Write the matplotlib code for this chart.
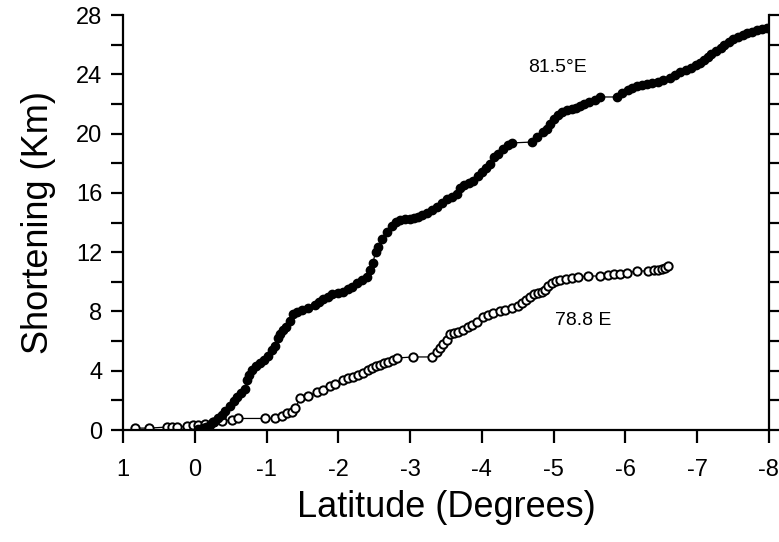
import matplotlib
matplotlib.use("Agg")
import matplotlib.pyplot as plt
from matplotlib.ticker import MultipleLocator

plt.rcParams['font.family'] = ['Liberation Sans', 'DejaVu Sans']

# 81.5°E (filled circles)
lat_815 = [-0.04, -0.11, -0.16, -0.21, -0.27, -0.32, -0.38, -0.42, -0.49, -0.55,
           -0.59, -0.64, -0.70, -0.73, -0.75, -0.80, -0.85, -0.91, -0.96, -1.02,
           -1.08, -1.12, -1.16, -1.19, -1.23, -1.27, -1.33, -1.37, -1.42, -1.49,
           -1.58, -1.67, -1.73, -1.79, -1.86, -1.91, -1.99, -2.06, -2.13, -2.19,
           -2.26, -2.33, -2.40, -2.44, -2.48, -2.52, -2.55, -2.61, -2.68, -2.75,
           -2.80, -2.86, -2.93, -3.00, -3.05, -3.11, -3.16, -3.23, -3.30, -3.37,
           -3.44, -3.51, -3.58, -3.65, -3.69, -3.75, -3.82, -3.87, -3.94, -4.00,
           -4.06, -4.11, -4.17, -4.22, -4.29, -4.36, -4.42, -4.70, -4.77, -4.85,
           -4.91, -4.95, -5.00, -5.06, -5.11, -5.18, -5.25, -5.31, -5.37, -5.43,
           -5.50, -5.57, -5.64, -5.88, -5.95, -6.03, -6.09, -6.16, -6.23, -6.30,
           -6.37, -6.45, -6.53, -6.62, -6.69, -6.76, -6.84, -6.92, -6.98, -7.04,
           -7.09, -7.15, -7.20, -7.27, -7.33, -7.38, -7.44, -7.50, -7.57, -7.64,
           -7.70, -7.77, -7.84, -7.91, -7.97]
km_815 = [0.07, 0.13, 0.20, 0.34, 0.54, 0.81, 1.01, 1.28, 1.62, 1.96,
          2.23, 2.50, 2.77, 3.37, 3.71, 4.05, 4.32, 4.52, 4.72, 4.99,
          5.40, 5.67, 6.21, 6.48, 6.75, 6.95, 7.36, 7.83, 7.96, 8.10,
          8.23, 8.44, 8.64, 8.84, 8.98, 9.18, 9.25, 9.31, 9.51, 9.65,
          9.92, 10.12, 10.32, 10.80, 11.27, 12.01, 12.35, 12.89, 13.36, 13.77,
          14.04, 14.17, 14.24, 14.24, 14.31, 14.37, 14.51, 14.64, 14.85, 15.05,
          15.32, 15.59, 15.72, 15.93, 16.33, 16.53, 16.67, 16.80, 17.14, 17.41,
          17.68, 17.95, 18.42, 18.62, 18.96, 19.23, 19.37, 19.43, 19.77, 20.11,
          20.31, 20.65, 20.99, 21.26, 21.46, 21.59, 21.66, 21.73, 21.86, 22.00,
          22.13, 22.27, 22.47, 22.47, 22.74, 22.94, 23.08, 23.21, 23.28, 23.35,
          23.42, 23.48, 23.62, 23.75, 23.96, 24.16, 24.29, 24.43, 24.63, 24.77,
          24.97, 25.17, 25.37, 25.58, 25.78, 25.98, 26.18, 26.39, 26.52, 26.65,
          26.79, 26.86, 26.99, 27.06, 27.13]

# 78.8 E (open circles)
lat_788 = [0.83, 0.64, 0.39, 0.32, 0.25, 0.11, 0.03, -0.04, -0.14, -0.25,
           -0.38, -0.52, -0.60, -0.98, -1.12, -1.21, -1.28, -1.35, -1.40, -1.47,
           -1.58, -1.70, -1.79, -1.88, -1.95, -2.06, -2.13, -2.20, -2.27, -2.34,
           -2.41, -2.47, -2.52, -2.58, -2.64, -2.69, -2.76, -2.82, -3.04, -3.30,
           -3.37, -3.42, -3.46, -3.51, -3.55, -3.61, -3.67, -3.74, -3.81, -3.86,
           -3.93, -4.01, -4.08, -4.15, -4.25, -4.32, -4.42, -4.50, -4.56, -4.61,
           -4.67, -4.72, -4.78, -4.84, -4.88, -4.92, -4.98, -5.03, -5.09, -5.17,
           -5.25, -5.34, -5.48, -5.64, -5.76, -5.84, -5.92, -6.02, -6.16, -6.31,
           -6.40, -6.45, -6.51, -6.55, -6.59]
km_788 = [0.13, 0.13, 0.20, 0.20, 0.20, 0.27, 0.34, 0.34, 0.40, 0.54,
          0.61, 0.67, 0.78, 0.78, 0.81, 0.94, 1.15, 1.21, 1.48, 2.16,
          2.29, 2.56, 2.70, 2.97, 3.10, 3.37, 3.51, 3.58, 3.71, 3.85,
          4.05, 4.18, 4.32, 4.39, 4.52, 4.59, 4.72, 4.86, 4.93, 4.93,
          5.26, 5.53, 5.80, 6.07, 6.48, 6.55, 6.61, 6.75, 6.95, 7.09,
          7.29, 7.62, 7.76, 7.90, 8.03, 8.10, 8.23, 8.37, 8.57, 8.77,
          8.98, 9.18, 9.25, 9.31, 9.45, 9.72, 9.92, 10.06, 10.12, 10.19,
          10.26, 10.32, 10.39, 10.39, 10.46, 10.53, 10.53, 10.59, 10.73, 10.73,
          10.80, 10.80, 10.86, 10.93, 11.07]

x_ticks = [1, 0, -1, -2, -3, -4, -5, -6, -7, -8]
y_ticks = [0, 4, 8, 12, 16, 20, 24, 28]

fig = plt.figure(figsize=(7.79, 5.42), dpi=100)
ax = fig.add_axes([0.158, 0.2066, 0.829, 0.7657])

ax.plot(lat_815, km_815, color='black', lw=0.9, marker='o', ms=6,
        mfc='black', mec='black', zorder=3)
ax.plot(lat_788, km_788, color='black', lw=0.9, marker='o', ms=6,
        mfc='white', mec='black', mew=1.4, zorder=2)

ax.set_xlim(1, -8)
ax.set_ylim(0, 28)
ax.set_xticks(x_ticks)
ax.set_xticklabels([str(v) for v in x_ticks])
ax.set_yticks(y_ticks)
ax.set_yticklabels([str(v) for v in y_ticks])
ax.yaxis.set_minor_locator(MultipleLocator(2))

ax.spines['top'].set_visible(False)
for s in ['left', 'right', 'bottom']:
    ax.spines[s].set_linewidth(1.6)

ax.tick_params(axis='both', which='both', direction='out', length=9, width=1.6,
               labelsize=17)
ax.tick_params(axis='y', which='both', right=True, left=True, labelright=False, pad=6)
ax.tick_params(axis='x', which='major', pad=12)

ax.set_xlabel('Latitude (Degrees)', fontsize=26, labelpad=6)
ax.set_ylabel('Shortening (Km)', fontsize=26, labelpad=14)

ax.text(-5.06, 24.43, '81.5°E', fontsize=14, ha='center', va='center')
ax.text(-5.41, 7.42, '78.8 E', fontsize=14, ha='center', va='center')

fig.savefig('out.png', dpi=100)
